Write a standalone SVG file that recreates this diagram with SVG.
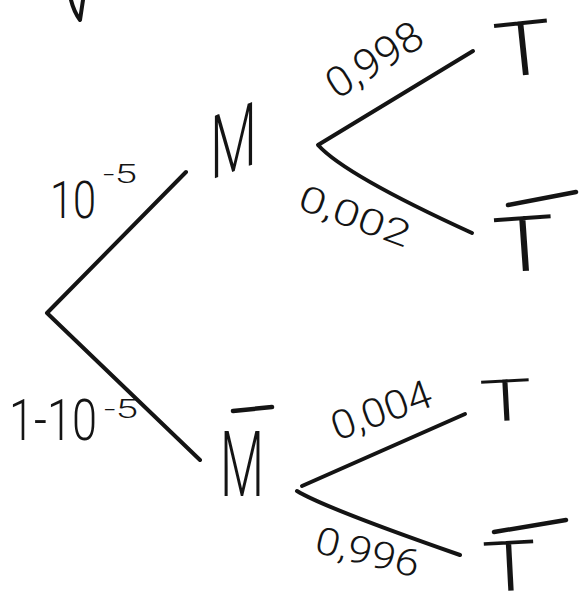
<svg xmlns="http://www.w3.org/2000/svg" width="580" height="598" viewBox="0 0 580 598">
<defs>
<style>
.ink{fill:none;stroke:#141414;stroke-width:4;stroke-linecap:round;stroke-linejoin:round}
.bar{fill:none;stroke:#141414;stroke-width:4.5;stroke-linecap:round}
.lbl{font-family:Roboto,"Liberation Sans",sans-serif;fill:#141414;font-weight:300}
.node{font-family:Roboto,"Liberation Sans",sans-serif;fill:#141414;font-weight:300}
</style>
</defs>
<rect width="580" height="598" fill="#ffffff"/>
<path class="ink" d="M71,0 Q74,12 80,20 L83,0"/>
<g id="connectors">
<path class="ink" d="M186,172 L47,313 L200,460"/>
<path class="ink" d="M473,51 L318,145 Q345,175 472,233"/>
<path class="ink" d="M465,414 L302,486"/>
<path class="ink" d="M297,491 Q325,508 460,555"/>
<text class="lbl" font-size="52"><tspan x="50" y="218" textLength="46" lengthAdjust="spacingAndGlyphs">10</tspan><tspan x="103" y="183" font-size="26" textLength="34" lengthAdjust="spacingAndGlyphs">-5</tspan></text>
<text class="lbl" font-size="58"><tspan x="9" y="440" textLength="88" lengthAdjust="spacingAndGlyphs">1-10</tspan><tspan x="104" y="418" font-size="26" textLength="34" lengthAdjust="spacingAndGlyphs">-5</tspan></text>
<text class="lbl" font-size="42" transform="translate(337,100) rotate(-32)" textLength="106" lengthAdjust="spacingAndGlyphs">0,998</text>
<text class="lbl" font-size="36" transform="translate(296,208) rotate(20)" textLength="116" lengthAdjust="spacingAndGlyphs">0,002</text>
<text class="lbl" font-size="40" transform="translate(337,441) rotate(-20)" textLength="104" lengthAdjust="spacingAndGlyphs">0,004</text>
<text class="lbl" font-size="38" transform="translate(313,552) rotate(14)" textLength="106" lengthAdjust="spacingAndGlyphs">0,996</text>
</g>
<g id="node-M"><text class="node" font-size="88" transform="translate(210,180) skewY(-20)" textLength="47" lengthAdjust="spacingAndGlyphs">M</text></g>
<g id="node-Mbar"><line class="bar" x1="233" y1="411" x2="272" y2="407"/><text class="node" font-size="90" transform="translate(220,496)" textLength="44" lengthAdjust="spacingAndGlyphs">M</text></g>
<g id="node-T1"><text class="node" font-size="76" transform="translate(497,78) rotate(-6)" textLength="58" lengthAdjust="spacingAndGlyphs">T</text></g>
<g id="node-T1bar"><line class="bar" x1="508" y1="205" x2="576" y2="192"/><text class="node" font-size="77" transform="translate(495,273) rotate(-4)" textLength="62" lengthAdjust="spacingAndGlyphs">T</text></g>
<g id="node-T2"><text class="node" font-size="58" transform="translate(481,422) rotate(-3)" textLength="52" lengthAdjust="spacingAndGlyphs">T</text></g>
<g id="node-T2bar"><line class="bar" x1="494" y1="532" x2="566" y2="520"/><text class="node" font-size="70" transform="translate(484,592) rotate(-3)" textLength="54" lengthAdjust="spacingAndGlyphs">T</text></g>
</svg>
